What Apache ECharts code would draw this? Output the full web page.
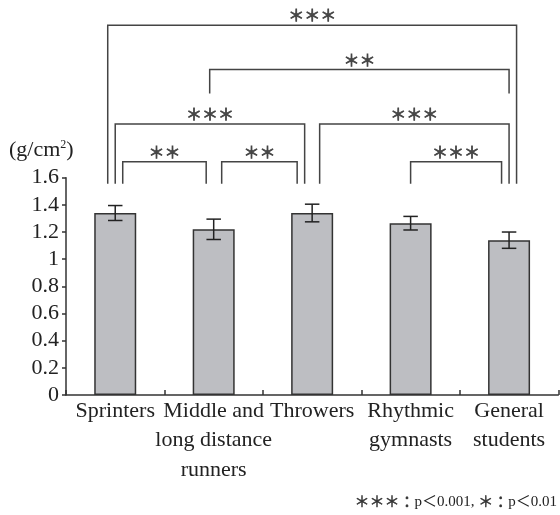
<!DOCTYPE html>
<html>
<head>
<meta charset="utf-8">
<script src="https://cdn.jsdelivr.net/npm/echarts@6/dist/echarts.min.js"></script>
<style>html,body{margin:0;padding:0;background:#fff;}#c{width:560px;height:515px;}</style>
</head>
<body>
<div id="c"></div>
<script>
const categories = ['Sprinters', 'Middle and\nlong distance\nrunners', 'Throwers', 'Rhythmic\ngymnasts', 'General\nstudents'];
const means = [1.34, 1.22, 1.34, 1.265, 1.14];
const errors = [0.055, 0.075, 0.065, 0.05, 0.06];
const yTicks = { min: 0, max: 1.6, interval: 0.2 };
// significance brackets: [fromIndex, toIndex, bracketLevel, legBottom, offsetFrom(px), offsetTo(px)]
const bracketPairs = [
  [0, 4, 2.723, 1.556, -7.5, 7.5],
  [1, 4, 2.397, 2.220, -4, 0],
  [0, 2, 1.996, 1.556, 0, -7.5],
  [2, 4, 1.996, 1.556, 7.5, 0],
  [0, 1, 1.718, 1.556, 7.5, -7.5],
  [1, 2, 1.718, 1.556, 8, -15],
  [3, 4, 1.718, 1.556, 0, -7.5]
];
const bracketLabels = ['＊＊＊', '＊＊', '＊＊＊', '＊＊＊', '＊＊', '＊＊', '＊＊＊'];
const footnote = '{a|＊＊＊：}p＜0.001, {a|＊：}p＜0.01';

const serif = 'Liberation Serif, "Noto Sans CJK JP", serif';
const chart = echarts.init(document.getElementById('c'), null, { renderer: 'canvas' });

const errData = means.map((v, i) => [i, v - errors[i], v + errors[i]]);

chart.setOption({
  animation: false,
  backgroundColor: '#fff',
  grid: { left: 66, right: 1.7, top: 177.7, bottom: 120, containLabel: false },
  xAxis: {
    type: 'category',
    data: categories,
    axisLine: { lineStyle: { color: '#333', width: 1.5 } },
    axisTick: { show: true, inside: true, length: 5, interval: 0, lineStyle: { color: '#333', width: 1.5 } },
    axisLabel: { interval: 0, fontFamily: serif, fontSize: 22, lineHeight: 29.5, margin: 1, color: '#222' },
    splitLine: { show: false }
  },
  yAxis: {
    type: 'value',
    min: yTicks.min, max: yTicks.max, interval: yTicks.interval,
    axisLine: { show: true, lineStyle: { color: '#333', width: 1.5 } },
    axisTick: { show: true, length: 4, lineStyle: { color: '#333', width: 1.5 } },
    axisLabel: { fontFamily: serif, fontSize: 22, color: '#222', margin: 7 },
    splitLine: { show: false }
  },
  graphic: [
    {
      type: 'text', left: 9, top: 139,
      style: {
        text: '(g/cm{sup|2})',
        font: '22px ' + serif,
        fill: '#222',
        rich: { sup: { fontSize: 12, fontFamily: serif, verticalAlign: 'top', lineHeight: 22, fill: '#222' } }
      }
    },
    {
      type: 'text', right: 3, top: 494,
      style: {
        text: footnote, font: '15px ' + serif, fill: '#222',
        rich: { a: { fontFamily: '"Noto Sans CJK JP"', fontSize: 15, fill: '#333', stroke: '#333', lineWidth: 0.5 } }
      }
    }
  ],
  series: [
    {
      type: 'bar',
      data: means,
      barWidth: 42,
      itemStyle: { color: '#bdbec2', borderColor: '#333', borderWidth: 1.5 },
      z: 2
    },
    {
      type: 'custom',
      data: errData,
      encode: { x: 0, y: [1, 2] },
      z: 3,
      renderItem: function (params, api) {
        const lo = api.coord([api.value(0), api.value(1)]);
        const hi = api.coord([api.value(0), api.value(2)]);
        const hw = 7.25;
        const st = { stroke: '#222', lineWidth: 1.5 };
        return {
          type: 'group',
          children: [
            { type: 'line', shape: { x1: lo[0], y1: lo[1], x2: hi[0], y2: hi[1] }, style: st },
            { type: 'line', shape: { x1: lo[0] - hw, y1: lo[1], x2: lo[0] + hw, y2: lo[1] }, style: st },
            { type: 'line', shape: { x1: hi[0] - hw, y1: hi[1], x2: hi[0] + hw, y2: hi[1] }, style: st }
          ]
        };
      }
    },
    {
      type: 'custom',
      data: bracketPairs,
      encode: { x: 0, y: 2 },
      clip: false,
      z: 4,
      renderItem: function (params, api) {
        const from = api.value(0), to = api.value(1), lvl = api.value(2), bot = api.value(3);
        const p1 = api.coord([from, lvl]);
        const p2 = api.coord([to, lvl]);
        const pb = api.coord([from, bot]);
        const x1 = p1[0] + api.value(4), x2 = p2[0] + api.value(5);
        const yT = p1[1], yB = pb[1];
        return {
          type: 'group',
          children: [
            { type: 'polyline', shape: { points: [[x1, yB], [x1, yT], [x2, yT], [x2, yB]] },
              style: { stroke: '#444', lineWidth: 1.5, fill: null } },
            { type: 'text', x: (x1 + x2) / 2, y: yT - 10,
              style: { text: bracketLabels[params.dataIndex], font: '16px "Noto Sans CJK JP"', fill: '#444',
                       stroke: '#444', lineWidth: 0.8, align: 'center', verticalAlign: 'middle' } }
          ]
        };
      }
    }
  ]
});
</script>
</body>
</html>
